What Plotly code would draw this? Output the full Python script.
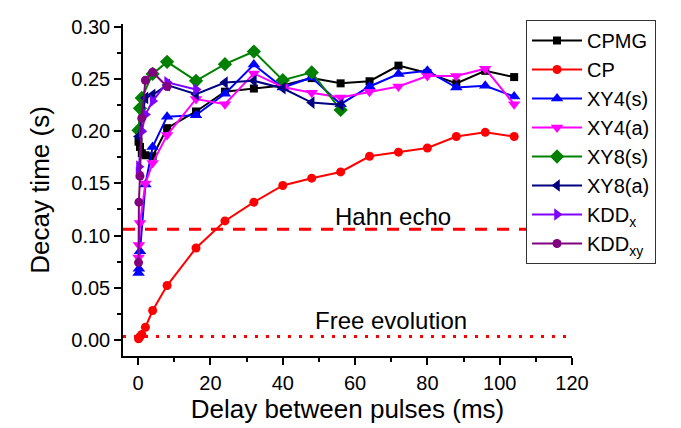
import plotly.graph_objects as go

# ---- data ----
cpmg_x = [0.1, 0.5, 1, 2, 4, 8, 16, 24, 32, 40, 48, 56, 64, 72, 80, 88, 96, 104]
cpmg_y = [0.190, 0.185, 0.179, 0.177, 0.176, 0.203, 0.219, 0.238, 0.241, 0.244, 0.251, 0.246, 0.248, 0.263, 0.256, 0.246, 0.258, 0.252]

cp_x = [0.1, 0.25, 0.5, 1, 2, 4, 8, 16, 24, 32, 40, 48, 56, 64, 72, 80, 88, 96, 104]
cp_y = [0.001, 0.002, 0.003, 0.005, 0.012, 0.028, 0.052, 0.088, 0.114, 0.132, 0.148, 0.155, 0.161, 0.176, 0.180, 0.184, 0.195, 0.199, 0.195]

xy4s_x = [0.1, 0.2, 0.5, 2, 4, 8, 16, 24, 32, 40, 48, 56, 64, 72, 80, 88, 96, 104]
xy4s_y = [0.064, 0.068, 0.085, 0.149, 0.185, 0.214, 0.2155, 0.236, 0.264, 0.242, 0.2516, 0.226, 0.243, 0.255, 0.258, 0.242, 0.2436, 0.2334]

xy4a_x = [0.1, 0.2, 0.5, 2, 4, 8, 16, 24, 32, 40, 48, 56, 64, 72, 80, 88, 96, 104]
xy4a_y = [0.079, 0.091, 0.112, 0.150, 0.1695, 0.1964, 0.231, 0.226, 0.2555, 0.2425, 0.237, 0.2325, 0.238, 0.243, 0.253, 0.253, 0.260, 0.226]

xy8s_x = [0.1, 0.5, 1, 4, 8, 16, 24, 32, 40, 48, 56]
xy8s_y = [0.201, 0.222, 0.232, 0.255, 0.2666, 0.2484, 0.2644, 0.2765, 0.249, 0.2565, 0.2205]

xy8a_x = [0.1, 2, 4, 8, 16, 24, 32, 40, 48, 56]
xy8a_y = [0.195, 0.232, 0.235, 0.2443, 0.2356, 0.2468, 0.2484, 0.2413, 0.2275, 0.2255]

kddx_x = [0.1, 0.2, 1, 2, 4, 8, 16]
kddx_y = [0.160, 0.166, 0.200, 0.216, 0.229, 0.247, 0.240]

kddxy_x = [0.1, 0.2, 0.5, 1, 2, 4, 8]
kddxy_y = [0.074, 0.132, 0.157, 0.2126, 0.249, 0.2567, 0.243]

hahn_echo = 0.106
free_evolution = 0.003

series = [
    ("CPMG", cpmg_x, cpmg_y, "#000000", "square", 8),
    ("CP", cp_x, cp_y, "#FF0000", "circle", 9),
    ("XY4(s)", xy4s_x, xy4s_y, "#0000FF", "triangle-up", 11),
    ("XY4(a)", xy4a_x, xy4a_y, "#FF00FF", "triangle-down", 11),
    ("XY8(s)", xy8s_x, xy8s_y, "#008000", "diamond", 11),
    ("XY8(a)", xy8a_x, xy8a_y, "#000080", "triangle-left", 11),
    ("KDD<sub>x</sub>", kddx_x, kddx_y, "#8000FF", "triangle-right", 11),
    ("KDD<sub>xy</sub>", kddxy_x, kddxy_y, "#800080", "circle", 9),
]

FONT = "Liberation Sans, Arial, sans-serif"

fig = go.Figure()
for name, xs, ys, col, sym, sz in series:
    fig.add_trace(go.Scatter(
        x=xs, y=ys, name=name, mode="lines+markers",
        line=dict(color=col, width=2),
        marker=dict(symbol=sym, size=sz, color=col),
    ))

# reference lines
fig.add_shape(type="line", xref="x", yref="y", x0=-4.2, x1=120,
              y0=hahn_echo, y1=hahn_echo,
              line=dict(color="#FF0000", width=3, dash="12px,10px"), layer="below")
fig.add_shape(type="line", xref="x", yref="y", x0=-4.2, x1=119.5,
              y0=free_evolution, y1=free_evolution,
              line=dict(color="#FF0000", width=3, dash="3px,8px"), layer="below")

fig.add_annotation(x=70.5, y=0.1185, xref="x", yref="y", text="Hahn echo",
                   showarrow=False, font=dict(family=FONT, size=24, color="black"),
                   xanchor="center", yanchor="middle")
fig.add_annotation(x=70.0, y=0.0185, xref="x", yref="y", text="Free evolution",
                   showarrow=False, font=dict(family=FONT, size=24, color="black"),
                   xanchor="center", yanchor="middle")

fig.update_layout(
    width=681, height=428,
    margin=dict(l=115, r=117, t=12, b=80, autoexpand=False),
    paper_bgcolor="white", plot_bgcolor="white",
    font=dict(family=FONT, color="black"),
    showlegend=True,
    legend=dict(
        x=0.8976, y=1.0, xanchor="left", yanchor="top",
        bgcolor="white", bordercolor="#333333", borderwidth=1,
        font=dict(family=FONT, size=20, color="black"),
        itemwidth=50, tracegroupgap=0, maxheight=320,
    ),
    xaxis=dict(
        range=[-4.2, 120], tickmode="linear", tick0=0, dtick=20,
        showline=True, linecolor="black", linewidth=1.5,
        ticks="outside", ticklen=7, tickwidth=1.5, tickcolor="black",
        minor=dict(dtick=10, tick0=0, ticks="outside", ticklen=4, tickwidth=1.5, tickcolor="black"),
        showgrid=False, zeroline=False, automargin=False,
        tickfont=dict(family=FONT, size=20, color="black"), ticklabelstandoff=1,
        title=dict(text="Delay between pulses (ms)", font=dict(family=FONT, size=26, color="black"), standoff=7),
    ),
    yaxis=dict(
        domain=[0, 0.988],
        range=[-0.0156, 0.3029], tickmode="linear", tick0=0, dtick=0.05, tickformat=".2f",
        showline=True, linecolor="black", linewidth=1.5,
        ticks="outside", ticklen=7, tickwidth=1.5, tickcolor="black",
        minor=dict(dtick=0.025, tick0=0, ticks="outside", ticklen=4, tickwidth=1.5, tickcolor="black"),
        showgrid=False, zeroline=False, automargin=False,
        tickfont=dict(family=FONT, size=20, color="black"),
        title=dict(text="Decay time (s)", font=dict(family=FONT, size=26, color="black"), standoff=14),
    ),
)

fig.write_html("out.html")
